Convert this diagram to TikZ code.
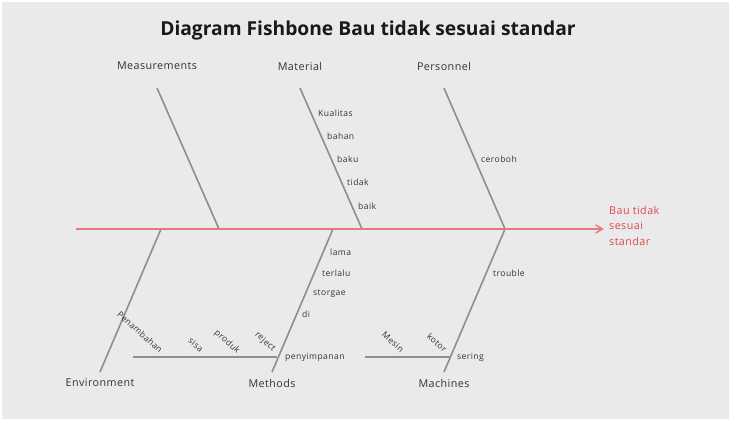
\documentclass[tikz,border=0pt]{standalone}
\usepackage{fontspec}
\setmainfont{Open Sans}
\newfontfamily\catfont{Open Sans}[LetterSpace=4]
\newfontfamily\subfont{Open Sans}[LetterSpace=5]
\usetikzlibrary{arrows.meta}
\definecolor{bg}{HTML}{EAEAEA}
\definecolor{bone}{HTML}{8E8E8E}
\definecolor{spinered}{HTML}{E8787C}
\definecolor{effectred}{HTML}{E0474C}
\definecolor{txt}{HTML}{333333}
\tikzset{
  x=1bp, y=-1bp,
  bonestyle/.style={draw=bone, line width=1.6bp},
  spinestyle/.style={draw=spinered, line width=2.2bp, -{Straight Barb[length=7bp,width=8bp,line width=1.4bp]}},
  catlabel/.style={font=\catfont\fontsize{10.8}{13}\selectfont, text=txt, inner sep=0pt},
  sublabel/.style={font=\subfont\fontsize{8.6}{10}\selectfont, text=txt, inner sep=0pt, anchor=west},
  rotlabel/.style={font=\subfont\fontsize{8.6}{10}\selectfont, text=txt, inner sep=0pt, rotate=-42},
  effectlabel/.style={font=\catfont\fontsize{10.8}{15.5}\selectfont, text=effectred, inner sep=0pt, anchor=north west, align=left},
}
\begin{document}
\begin{tikzpicture}
% canvas
\fill[white] (0,0) rectangle (732,421);
\fill[bg] (2,2) rectangle (729,419);
\useasboundingbox (0,0) rectangle (732,421);

% title
\node[font=\bfseries\fontsize{19.3}{23}\selectfont, text=black!90, inner sep=0pt] (title) at (368,30) {Diagram Fishbone Bau tidak sesuai standar};

% spine and effect
\coordinate (tail) at (76,229);
\coordinate (head) at (604,229);
\node[effectlabel] (effect) at (609,206) {Bau tidak\\sesuai\\standar};

% joints on the spine
\coordinate (jMeas) at (219,229);
\coordinate (jMat) at (362,229);
\coordinate (jPers) at (505,229);
\coordinate (jEnv) at (161,229);
\coordinate (jMeth) at (333,229);
\coordinate (jMach) at (505,229);

% free ends of the bones
\coordinate (eMeas) at (157,88);
\coordinate (eMat) at (300,88);
\coordinate (ePers) at (444,88);
\coordinate (eEnv) at (100,372);
\coordinate (eMeth) at (272,372);
\coordinate (eMach) at (444,372);

% category labels
\node[catlabel] (lMeas) at (157,66) {Measurements};
\node[catlabel] (lMat) at (300,66) {Material};
\node[catlabel] (lPers) at (444,66) {Personnel};
\node[catlabel] (lEnv) at (100,383) {Environment};
\node[catlabel] (lMeth) at (272,383) {Methods};
\node[catlabel] (lMach) at (444,383) {Machines};

% bones
\draw[bonestyle] (eMeas) -- (jMeas);
\draw[bonestyle] (eMat) -- (jMat);
\draw[bonestyle] (ePers) -- (jPers);
\draw[bonestyle] (jEnv) -- (eEnv);
\draw[bonestyle] (jMeth) -- (eMeth);
\draw[bonestyle] (jMach) -- (eMach);

% sub-branches
\coordinate (sMethL) at (133,357);
\coordinate (sMethR) at (277,357);
\coordinate (sMachL) at (365,357);
\coordinate (sMachR) at (450,357);
\draw[bonestyle] (sMethL) -- (sMethR);
\draw[bonestyle] (sMachL) -- (sMachR);

% spine drawn last so it sits on top
\draw[spinestyle] (tail) -- (head);

% causes: Material
\node[sublabel] (c1) at (318,113) {Kualitas};
\node[sublabel] (c2) at (327,136) {bahan};
\node[sublabel] (c3) at (337,159) {baku};
\node[sublabel] (c4) at (347,182) {tidak};
\node[sublabel] (c5) at (358,206) {baik};

% causes: Personnel
\node[sublabel] (c6) at (481,159) {ceroboh};

% causes: Methods
\node[sublabel] (c7) at (330,252) {lama};
\node[sublabel] (c8) at (322,273) {terlalu};
\node[sublabel] (c9) at (313,294) {storgae};
\node[sublabel] (c10) at (302,314) {di};
\node[sublabel] (c11) at (285,357) {penyimpanan};
\node[rotlabel] (c12) at (140,332) {Penambahan};
\node[rotlabel] (c13) at (196,345) {sisa};
\node[rotlabel] (c14) at (227,342) {produk};
\node[rotlabel] (c15) at (265,342) {reject};

% causes: Machines
\node[sublabel] (c16) at (493,273) {trouble};
\node[sublabel] (c17) at (457,357) {sering};
\node[rotlabel] (c18) at (393,342) {Mesin};
\node[rotlabel] (c19) at (437,343) {kotor};
\end{tikzpicture}
\end{document}
